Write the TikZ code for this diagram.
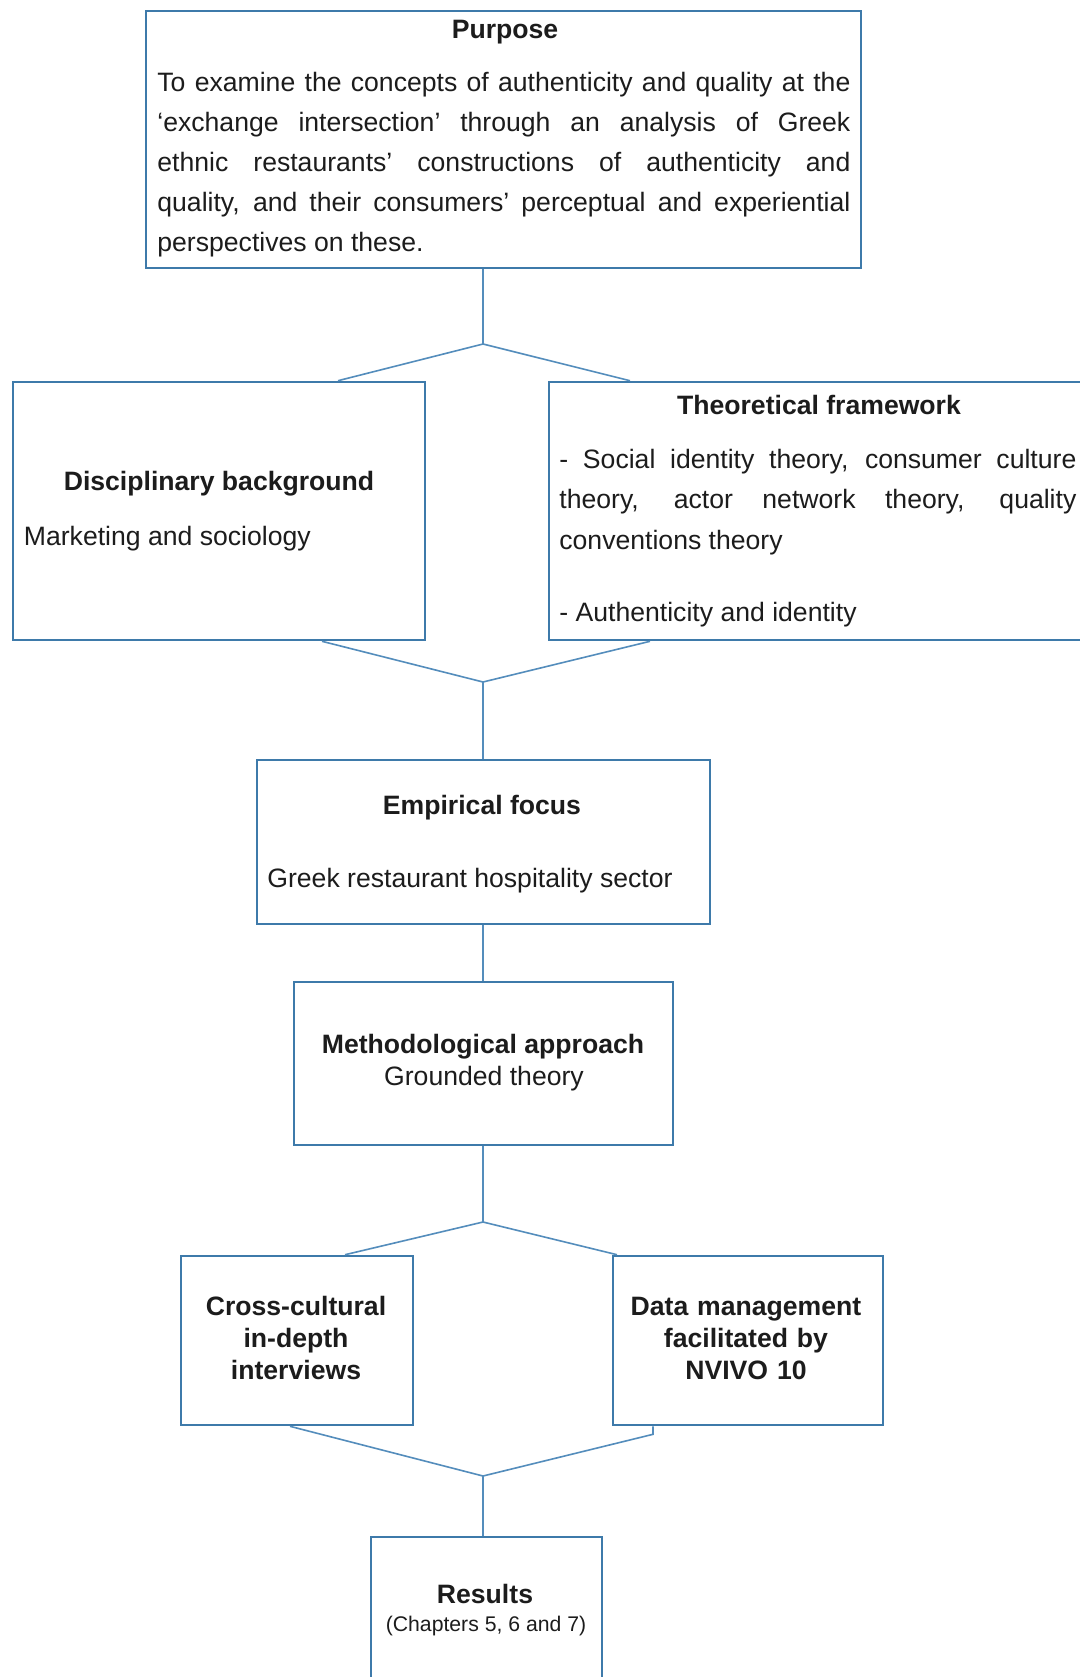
\documentclass[tikz,border=0pt]{standalone}
\usepackage{fontspec}
\setmainfont{Liberation Sans}
\usetikzlibrary{calc}
\definecolor{boxblue}{RGB}{62,122,170}
\definecolor{linkblue}{RGB}{84,141,188}
\definecolor{ink}{RGB}{28,28,28}
\hbadness=10000
\begin{document}
\begin{tikzpicture}[x=0.5pt,y=-0.5pt,
  box/.style={draw=boxblue, line width=1.3pt, fill=white, inner sep=0pt, rectangle},
  conn/.style={draw=linkblue, line width=0.8pt},
  txt/.style={text=ink, inner sep=0pt, font=\fontsize{13.3pt}{20pt}\selectfont},
  ttl/.style={text=ink, inner sep=0pt, font=\fontsize{13.3pt}{20pt}\selectfont\bfseries},
  para/.style={txt, anchor=base west, align=justify},
]
\useasboundingbox (0,0) rectangle (1080,1677);
\fill[white] (0,0) rectangle (1080,1677);
\clip (0,0) rectangle (1080,1677);

% boxes
\node[box, minimum width=357.5pt, minimum height=128.5pt] (purpose) at (503.5,139.5) {};
\node[box, minimum width=206pt, minimum height=129pt] (disc) at (219,511) {};
\node[box, minimum width=273pt, minimum height=129pt] (theo) at (822,511) {};
\node[box, minimum width=226.5pt, minimum height=82pt] (emp) at (483.5,842) {};
\node[box, minimum width=189.5pt, minimum height=81.5pt] (meth) at (483.5,1063.5) {};
\node[box, minimum width=116pt, minimum height=84.5pt] (cross) at (297,1340.5) {};
\node[box, minimum width=135pt, minimum height=84.5pt] (data) at (748,1340.5) {};
\node[box, minimum width=115.5pt, minimum height=81.5pt] (results) at (486.5,1618.5) {};

% junctions
\coordinate (j1) at (483,344);
\coordinate (j2) at (483,682);
\coordinate (j3) at (483,1222);
\coordinate (j4) at (483,1476);

% connectors
\draw[conn] (purpose.south -| j1) -- (j1);
\draw[conn] (j1) -- ($(disc.north)+(119,0)$);
\draw[conn] (j1) -- ($(theo.north)+(-192,0)$);
\draw[conn] ($(disc.south)+(103,0)$) -- (j2);
\draw[conn] ($(theo.south)+(-172,0)$) -- (j2);
\draw[conn] (j2) -- (j2 |- emp.north);
\draw[conn] (emp.south -| j2) -- (meth.north -| j2);
\draw[conn] (meth.south -| j3) -- (j3);
\draw[conn] (j3) -- ($(cross.north)+(48,0)$);
\draw[conn] (j3) -- ($(data.north)+(-131,0)$);
\draw[conn] ($(cross.south)+(-7,0)$) -- (j4);
\draw[conn] ($(data.south)+(-95,0)$) -- ++(0,8) -- (j4);
\draw[conn] (j4) -- (results.north -| j4);

% texts
\node[ttl, anchor=base] (purposetitle) at (505,38) {Purpose};
\node[para, text width=346.5pt, font=\fontsize{13.3pt}{20.1pt}\selectfont] (purposetext) at (157,91)
  {To examine the concepts of authenticity and quality at the\linebreak
   ‘exchange intersection’ through an analysis of Greek\linebreak
   ethnic restaurants’ constructions of authenticity and\linebreak
   quality, and their consumers’ perceptual and experiential\linebreak
   perspectives on these.};

\node[ttl, anchor=base] (disctitle) at (219,490) {Disciplinary background};
\node[txt, anchor=base west] (disctext) at (23.5,545) {Marketing and sociology};

\node[ttl, anchor=base] (theotitle) at (819,414) {Theoretical framework};
\node[para, text width=258.5pt, font=\fontsize{13.3pt}{20.25pt}\selectfont] (theotext) at (559,468)
  {- Social identity theory, consumer culture\linebreak
   theory, actor network theory, quality\linebreak
   conventions theory};
\node[txt, anchor=base west] (theotext2) at (559,621) {- Authenticity and identity};

\node[ttl, anchor=base] (emptitle) at (482,814) {Empirical focus};
\node[txt, anchor=base west] (emptext) at (267,887) {Greek restaurant hospitality sector};

\node[ttl, anchor=base] (methtitle) at (483,1053) {Methodological approach};
\node[txt, anchor=base] (methtext) at (484,1085) {Grounded theory};

\node[ttl, anchor=base, text width=116pt, align=center, font=\fontsize{13.3pt}{16pt}\selectfont\bfseries] (crosstext) at (296,1315)
  {Cross-cultural\\ in-depth\\ interviews};
\node[ttl, anchor=base, text width=135pt, align=center, font=\fontsize{13.3pt}{16pt}\selectfont\bfseries] (datatext) at (746,1315)
  {Data management\\ facilitated by\\ NVIVO 10};

\node[ttl, anchor=base] (resultstitle) at (485,1603) {Results};
\node[txt, anchor=base, font=\fontsize{10.6pt}{13pt}\selectfont] (resultstext) at (486,1631) {(Chapters 5, 6 and 7)};
\end{tikzpicture}
\end{document}
